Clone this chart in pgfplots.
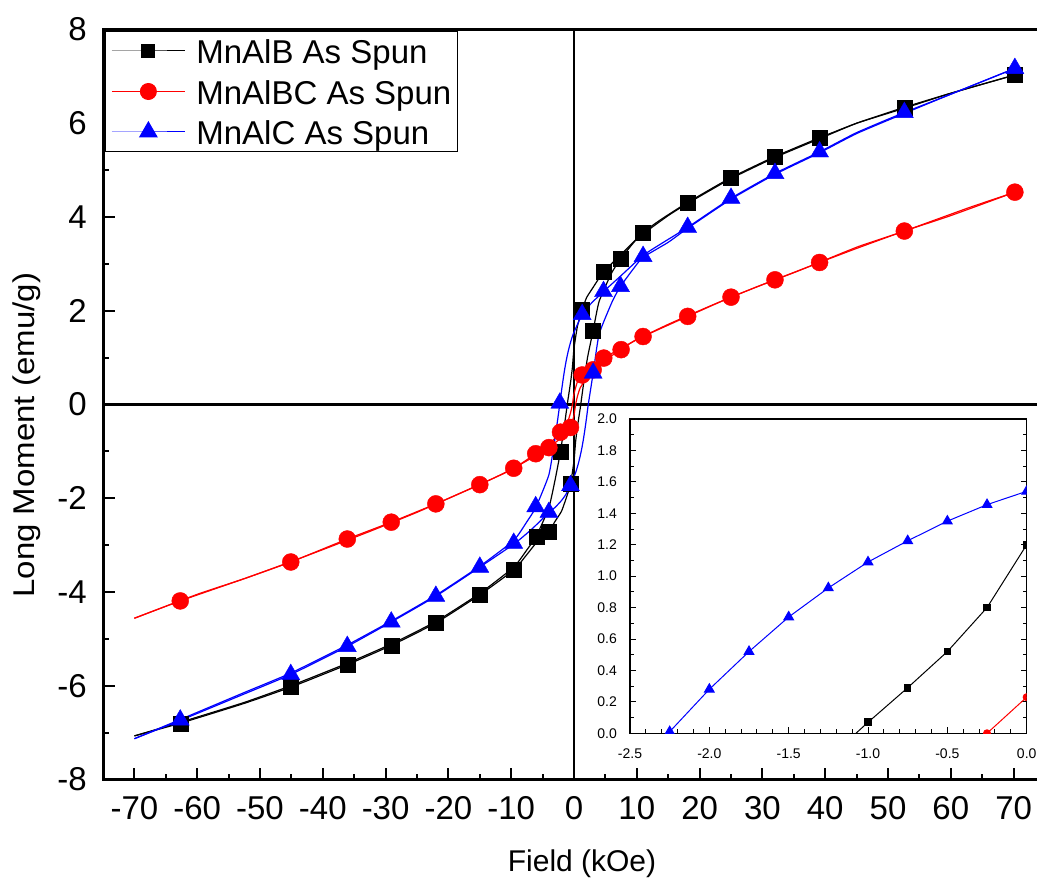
\documentclass[border=0pt]{standalone}
\usepackage{pgfplots}
\pgfplotsset{compat=1.18}
\usepackage{fontspec}
\setmainfont{Liberation Sans}
\definecolor{myblue}{RGB}{0,0,255}
\definecolor{myred}{RGB}{255,0,0}
\begin{document}
\begin{tikzpicture}[x=1pt,y=1pt]
\useasboundingbox (0,0) rectangle (1037,879);
\begin{axis}[
  at={(103pt,99.5pt)}, anchor=south west,
  scale only axis, width=942pt, height=750pt,
  xmin=-75, xmax=75, ymin=-8, ymax=8,
  xtick={-70,-60,-50,-40,-30,-20,-10,0,10,20,30,40,50,60,70},
  ytick={-8,-6,-4,-2,0,2,4,6,8},
  minor x tick num=1, minor y tick num=1,
  xtick pos=left, ytick pos=left,
  tick align=inside,
  major tick length=12pt, minor tick length=6pt,
  every tick/.style={black, line width=2pt},
  axis line style={line width=3pt},
  tick label style={font=\fontsize{33}{40}\selectfont, inner sep=0pt, /pgf/number format/assume math mode=true},
  yticklabel style={xshift=-16pt},
  xticklabel style={yshift=-17pt},
  xlabel={Field (kOe)},
  ylabel={\scalebox{1.1}[1]{Long Moment (emu/g)}},
  every axis x label/.style={at={(axis description cs:0.5085,-0.1233)}, anchor=base, font=\fontsize{30}{36}\selectfont},
  every axis y label/.style={at={(axis description cs:-0.0732,0.459)}, rotate=90, anchor=base, font=\fontsize{30}{36}\selectfont},
  legend style={at={(0.002,0.998)}, anchor=north west, draw=black, line width=1pt,
    font=\fontsize{33}{40}\selectfont, inner xsep=6pt, inner ysep=0pt, row sep=1.5pt, column sep=11pt,
    nodes={inner sep=0pt, text height=32.5pt, text depth=6.5pt}},
  legend cell align=left,
  legend image code/.code={\draw[mark repeat=2,mark phase=2,#1] plot coordinates {(0pt,0pt) (36.5pt,0pt) (73pt,0pt)};},
]
\draw[line width=2.5pt] (axis cs:0,-8) -- (axis cs:0,8);
\draw[line width=2.5pt] (axis cs:-75,0) -- (axis cs:75,0);

% ---- MnAlB (black) ----
\addplot[black, line width=1.2pt, smooth, tension=0.3, forget plot] coordinates {
(70.2,7.03) (60,6.64) (52.6,6.34) (45,6.0) (39.1,5.69) (32,5.29) (25,4.84) (18.1,4.31) (14,3.96) (11,3.67) (7.5,3.2) (4.74,2.84) (3.05,2.5) (2,2.28) (1.3,2.02) (0.56,1.68) (0,1.2) (-0.25,0.8) (-0.5,0.52) (-0.75,0.29) (-1.0,0.07) (-1.5,-0.42) (-2.15,-1.0) (-3.0,-1.6) (-4.0,-2.2) (-6.0,-2.81) (-7.5,-3.1) (-9.6,-3.47) (-15,-4.03) (-22,-4.63) (-29.1,-5.11) (-36.1,-5.52) (-45.1,-6.0) (-52.6,-6.36) (-62.7,-6.78) (-70,-7.07)};
\addplot[black, line width=1.2pt, smooth, tension=0.3, forget plot] coordinates {
(-70,-7.07) (-62.7,-6.80) (-52.6,-6.38) (-45.1,-6.03) (-36.1,-5.55) (-29.1,-5.14) (-22,-4.66) (-15,-4.06) (-9.6,-3.53) (-7.5,-3.2) (-6,-2.95) (-4.0,-2.71) (-3.05,-2.5) (-2,-2.28) (-1.3,-2.02) (-0.56,-1.70) (0,-1.2) (0.25,-0.8) (0.5,-0.52) (0.75,-0.29) (1.0,-0.07) (1.5,0.42) (2.15,1.0) (3.05,1.58) (4.0,2.2) (6.0,2.81) (7.5,3.12) (9.6,3.47) (11,3.64) (15,4.03) (18.1,4.29) (25,4.82) (32,5.27) (39.1,5.67) (45,6.0) (52.6,6.32) (60,6.64) (70.2,7.03)};
\addplot[black, only marks, mark=square*, mark size=7.5pt, forget plot] coordinates {
(70.2,7.03) (52.6,6.34) (39.1,5.69) (32,5.29) (25,4.84) (18.1,4.31) (11,3.67) (7.5,3.12) (4.74,2.84) (3.05,1.58) (1.3,2.02) (-0.56,-1.70) (-2.15,-1.0) (-4.0,-2.71) (-6.0,-2.81) (-9.6,-3.53) (-15,-4.06) (-22,-4.66) (-29.1,-5.14) (-36.1,-5.55) (-45.1,-6.03) (-62.7,-6.80)};

% ---- MnAlBC (red) ----
\addplot[myred, line width=1.2pt, smooth, tension=0.3, forget plot] coordinates {
(70.2,4.53) (60,4.03) (52.6,3.70) (45,3.33) (39.1,3.03) (32,2.66) (25,2.29) (18.1,1.88) (11,1.45) (7.5,1.20) (4.74,0.99) (3.05,0.82) (1.3,0.63) (0.56,0.49) (0,0.23) (-0.25,0.0) (-0.56,-0.18) (-1.0,-0.36) (-2.15,-0.59) (-4.0,-0.85) (-6.1,-1.05) (-9.6,-1.36) (-15,-1.71) (-22,-2.12) (-29.1,-2.51) (-36.1,-2.87) (-45.1,-3.36) (-52.6,-3.72) (-62.7,-4.19) (-70,-4.56)};
\addplot[myred, line width=1.2pt, smooth, tension=0.3, forget plot] coordinates {
(-70,-4.56) (-60,-4.05) (-52.6,-3.72) (-45,-3.35) (-39.1,-3.05) (-32,-2.68) (-25,-2.30) (-18.1,-1.89) (-11,-1.46) (-7.5,-1.20) (-4.74,-0.99) (-4.0,-0.92) (-3.05,-0.82) (-1.3,-0.63) (-0.56,-0.49) (0,-0.23) (0.25,0) (0.56,0.18) (1.0,0.36) (2.15,0.59) (3.05,0.72) (4.0,0.85) (6.1,1.05) (7.5,1.17) (9.6,1.36) (15,1.71) (22,2.12) (29.1,2.51) (36.1,2.87) (45.1,3.36) (52.6,3.70) (62.7,4.19) (70.2,4.53)};
\addplot[myred, only marks, mark=*, mark size=8.5pt, forget plot] coordinates {
(70.2,4.53) (52.6,3.70) (39.1,3.03) (32,2.66) (25,2.29) (18.1,1.88) (11,1.45) (7.5,1.17) (4.74,0.99) (3.05,0.74) (1.3,0.63) (-0.56,-0.49) (-2.15,-0.59) (-4.0,-0.92) (-6.1,-1.05) (-9.6,-1.36) (-15,-1.71) (-22,-2.12) (-29.1,-2.51) (-36.1,-2.87) (-45.1,-3.36) (-62.7,-4.19)};

% ---- MnAlC (blue) ----
\addplot[myblue, line width=1.2pt, smooth, tension=0.3, forget plot] coordinates {
(70.2,7.17) (60,6.62) (52.6,6.23) (45,5.8) (39.1,5.39) (32,4.93) (25,4.40) (18.1,3.78) (14,3.44) (11,3.18) (7.5,2.75) (4.7,2.41) (3.05,2.2) (2,2.05) (1.3,1.92) (0.56,1.71) (0,1.54) (-0.25,1.46) (-0.5,1.35) (-0.75,1.23) (-1.0,1.09) (-1.25,0.93) (-1.5,0.74) (-1.75,0.52) (-2.0,0.28) (-2.26,0.01) (-3.0,-0.7) (-4.0,-1.5) (-6.1,-2.2) (-7.5,-2.5) (-9.6,-2.9) (-15,-3.45) (-22,-4.07) (-29.1,-4.62) (-36.1,-5.13) (-45.1,-5.73) (-52.6,-6.15) (-62.7,-6.72) (-70,-7.13)};
\addplot[myblue, line width=1.2pt, smooth, tension=0.3, forget plot] coordinates {
(-70,-7.13) (-62.7,-6.74) (-52.6,-6.18) (-45.1,-5.76) (-36.1,-5.16) (-29.1,-4.64) (-22,-4.09) (-15,-3.47) (-9.6,-2.98) (-7.5,-2.75) (-6.1,-2.58) (-4.0,-2.30) (-3.05,-2.2) (-2,-2.05) (-1.3,-1.92) (-0.56,-1.72) (0,-1.54) (0.25,-1.46) (0.5,-1.35) (0.75,-1.23) (1.0,-1.09) (1.25,-0.93) (1.5,-0.74) (1.75,-0.52) (2.0,-0.28) (2.26,-0.01) (3.05,0.67) (4.0,1.5) (6.1,2.2) (7.4,2.52) (9.6,2.92) (11,3.14) (15,3.46) (18.1,3.76) (25,4.38) (32,4.91) (39.1,5.37) (45,5.78) (52.6,6.21) (60,6.62) (70.2,7.17)};
\addplot[myblue, only marks, mark=triangle*, mark size=10.4pt, forget plot] coordinates {
(70.2,7.17) (52.6,6.23) (39.1,5.39) (32,4.93) (25,4.40) (18.1,3.78) (11,3.16) (7.4,2.52) (4.7,2.41) (3.05,0.67) (1.3,1.92) (-0.56,-1.73) (-2.26,0.03) (-4.0,-2.30) (-6.1,-2.18) (-9.6,-2.96) (-15,-3.47) (-22,-4.09) (-29.1,-4.64) (-36.1,-5.16) (-45.1,-5.76) (-62.7,-6.73)};

\addlegendimage{black, line width=1pt, mark=square*, mark size=6.5pt}
\addlegendentry{MnAlB As Spun}
\addlegendimage{myred, line width=1pt, mark=*, mark size=8pt}
\addlegendentry{MnAlBC As Spun}
\addlegendimage{myblue, line width=1pt, mark=triangle*, mark size=10pt}
\addlegendentry{MnAlC As Spun}
\end{axis}

% ---- inset ----
\begin{axis}[
  at={(630pt,145.7pt)}, anchor=south west,
  scale only axis, width=396.7pt, height=314.3pt,
  xmin=-2.5, xmax=0, ymin=0, ymax=2,
  xtick={-2.5,-2.0,-1.5,-1.0,-0.5,0},
  ytick={0,0.2,0.4,0.6,0.8,1.0,1.2,1.4,1.6,1.8,2.0},
  minor x tick num=4, minor y tick num=1,
  xtick pos=left, ytick pos=both, yticklabel pos=left,
  tick align=inside,
  major tick length=6pt, minor tick length=4pt,
  every tick/.style={black, line width=1pt},
  axis line style={line width=1.5pt},
  clip marker paths=true,
  tick label style={font=\fontsize{14}{17}\selectfont, inner sep=0pt,
    /pgf/number format/fixed, /pgf/number format/fixed zerofill,
    /pgf/number format/precision=1, /pgf/number format/assume math mode=true},
  yticklabel style={xshift=-13pt},
  xticklabel style={yshift=-15pt},
]
\addplot[myblue, line width=1pt, mark=triangle*, mark size=5.5pt] coordinates {
(-2.25,0.01) (-2.0,0.28) (-1.75,0.52) (-1.5,0.74) (-1.25,0.925) (-1.0,1.09) (-0.75,1.225) (-0.5,1.35) (-0.25,1.455) (0,1.54)};
\addplot[black, line width=1pt, mark=square*, mark size=3.3pt] coordinates {
(-1.25,-0.16) (-1.0,0.07) (-0.75,0.29) (-0.5,0.52) (-0.25,0.80) (0,1.20)};
\addplot[myred, line width=1pt, mark=*, mark size=3.5pt] coordinates {
(-0.5,-0.23) (-0.25,0.0) (0,0.23)};
\end{axis}
\end{tikzpicture}
\end{document}
